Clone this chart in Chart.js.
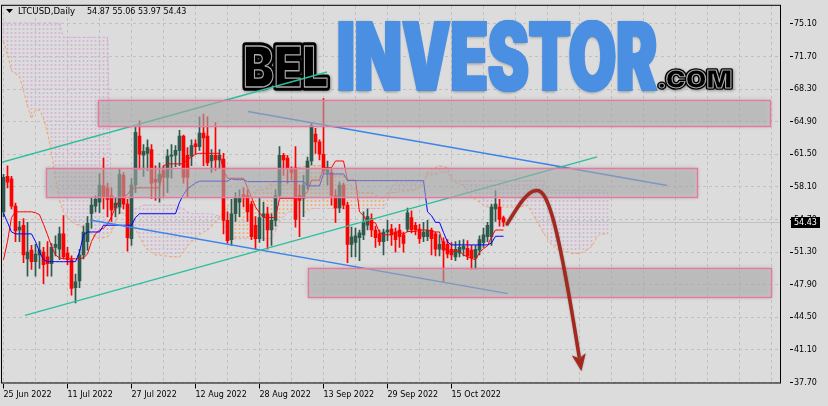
<!DOCTYPE html>
<html lang="en">
<head>
    <meta charset="UTF-8">
    <title>LTCUSD Daily</title>
    <style>
        body, html {
            margin: 0;
            padding: 0;
            background: #dcdcdc;
        }
        #wrap {
            width: 828px;
            height: 406px;
        }
    </style>
</head>
<body>
<div id="wrap"><canvas id="ltcChart" width="828" height="406"></canvas></div>
<script src="https://cdn.jsdelivr.net/npm/chart.js"></script>
<script>
// ---- data (bar index 0 = 25 Jun 2022) ----
const symbol = 'LTCUSD';

const opens = [55.5,59.2,58.95,56.1,53.6,54.1,50.6,51.5,50.3,51.0,
    51.3,50.8,50.1,51.8,51.6,53.2,51.2,50.5,47.6,48.3,
    51.0,52.4,55.3,56.1,56.5,58.2,58.0,57.2,55.9,56.0,
    59.3,56.3,52.7,58.3,63.4,61.4,61.6,62.0,58.9,58.6,
    59.8,59.1,61.3,61.4,61.9,63.4,61.4,61.3,62.6,62.3,
    63.7,63.4,60.8,61.4,60.9,61.0,54.6,52.6,55.3,56.5,
    57.3,57.2,56.3,54.1,52.7,55.0,55.3,53.6,54.6,57.2,
    61.4,61.1,59.9,60.1,57.2,56.9,58.3,60.8,63.6,62.8,
    61.5,59.6,59.6,57.2,55.9,58.3,56.2,52.1,52.3,52.8,
    53.1,54.1,54.8,53.6,53.2,52.4,53.4,53.7,53.4,53.6,
    53.1,53.7,54.9,54.1,53.7,52.9,52.9,53.6,53.2,51.6,
    52.4,52.1,51.6,50.8,51.2,51.6,51.7,51.5,50.7,51.5,
    52.3,52.9,52.9,55.8,56.0,54.87];
const highs = [59.4,60.3,59.2,56.4,54.5,54.8,54.4,52.0,52.1,52.4,
    51.8,52.4,52.2,53.0,53.9,55.1,51.8,50.9,49.0,51.6,
    54.0,55.0,57.0,57.2,59.5,61.1,58.5,58.0,57.0,60.0,
    59.6,56.8,59.0,64.3,65.0,62.5,63.0,62.5,60.3,60.6,
    60.3,62.0,62.5,62.4,64.0,63.5,62.2,63.0,63.0,65.4,
    65.7,65.4,62.0,64.8,62.0,61.6,55.5,56.8,57.5,57.8,
    58.0,57.8,56.6,55.0,57.0,56.5,56.0,55.3,57.8,62.3,
    61.6,61.4,60.2,62.3,58.3,59.3,61.2,64.8,64.2,63.0,
    67.3,60.8,60.0,57.8,58.6,58.5,56.5,53.9,53.8,53.6,
    55.5,55.8,55.3,54.0,53.6,53.7,54.6,54.2,53.8,54.2,
    53.4,55.9,55.6,54.4,54.2,54.4,54.6,53.8,53.4,53.1,
    52.8,52.6,52.3,52.4,52.5,52.6,52.5,52.0,52.0,53.0,
    53.8,54.4,56.3,57.7,56.8,55.06];
const lows = [55.0,58.0,55.8,52.4,52.4,50.2,48.8,49.5,48.8,49.6,
    48.0,48.8,48.8,50.9,50.5,50.6,50.0,46.8,46.0,47.6,
    50.6,51.5,53.8,55.5,55.4,55.8,55.0,54.5,55.0,55.3,
    55.8,51.4,52.0,57.5,59.9,59.2,59.8,56.9,56.7,56.5,
    57.0,57.5,59.0,60.2,60.3,58.5,57.0,60.3,61.5,61.9,
    60.3,60.3,59.6,59.8,60.0,53.2,52.2,52.0,54.5,55.0,
    56.0,54.5,52.6,51.6,52.3,52.5,51.6,52.0,54.0,57.0,
    59.3,58.5,58.8,53.9,52.9,55.0,57.9,60.4,61.6,60.9,
    59.5,58.3,56.2,54.4,55.4,55.8,50.2,50.8,50.8,50.4,
    52.6,53.6,52.9,51.8,52.0,51.0,52.5,52.0,51.3,51.8,
    51.3,53.4,53.3,53.1,52.2,52.4,52.5,51.0,50.9,50.9,
    48.2,50.7,50.5,50.4,50.8,50.9,50.5,49.5,49.5,51.0,
    51.8,52.4,52.0,54.5,54.0,53.97];
const closes = [59.1,58.6,56.1,53.5,53.9,51.0,51.3,50.3,51.1,51.5,
    50.0,50.1,51.8,52.1,53.2,50.8,50.5,47.5,48.2,51.0,
    53.4,54.3,56.2,56.8,58.3,57.0,56.8,55.7,56.4,59.4,
    56.3,52.8,58.3,63.8,61.5,61.8,62.2,58.5,58.6,59.4,
    59.1,61.3,61.4,61.9,63.4,59.1,59.1,62.4,62.3,63.7,
    63.2,60.6,61.4,60.9,61.4,54.6,52.5,55.3,57.0,57.0,
    57.0,55.5,52.9,52.7,54.9,55.3,53.6,54.6,57.2,61.4,
    60.9,60.1,59.6,54.7,56.7,58.3,60.8,64.5,62.8,61.5,
    59.8,59.9,57.2,55.9,58.3,56.2,52.1,52.9,53.0,53.3,
    54.4,55.0,53.6,52.8,52.4,53.4,53.6,53.1,52.6,52.9,
    52.2,55.4,53.6,53.6,52.7,53.4,53.6,52.7,51.6,52.1,
    51.5,51.1,51.0,51.6,51.8,51.9,50.9,50.7,51.6,52.6,
    53.1,54.1,56.0,56.3,54.7,54.43];

// Ichimoku lines as drawn (Tenkan red, Kijun blue)
const tenkan = [50.5,52.4,54.9,55.5,55.5,55.5,55.5,55.5,55.4,55.2,
    54.2,53.1,51.9,51.0,50.7,50.6,50.6,50.6,50.6,50.6,
    50.7,51.1,52.4,53.2,53.6,53.8,54.2,55.0,56.0,56.7,
    57.1,57.3,57.9,58.0,58.0,58.0,58.0,58.0,58.0,58.0,
    60.3,60.5,60.5,60.5,60.5,60.5,61.0,61.2,61.5,61.6,
    61.6,61.6,61.6,61.6,61.6,59.8,59.0,59.0,59.0,59.0,
    59.0,58.0,57.0,56.0,55.4,54.9,54.9,54.9,54.9,56.9,
    56.9,56.9,56.9,56.9,56.9,57.2,57.6,58.8,58.8,58.8,
    60.1,60.1,60.1,60.8,60.8,60.8,58.8,58.8,58.8,55.5,
    55.1,54.4,54.4,54.35,53.35,53.1,53.1,53.1,53.4,53.4,
    53.15,53.45,53.45,53.45,53.6,53.6,53.6,53.45,53.4,53.4,
    51.9,51.3,51.4,51.4,51.4,51.0,50.8,50.65,50.5,51.25,
    51.65,51.95,52.9,53.6,53.6,53.6];
const kijun = [55.35,54.4,53.4,53.2,53.2,53.2,53.2,53.2,52.4,51.3,
    50.5,50.3,50.3,50.3,50.3,50.3,50.3,50.3,50.3,51.3,
    53.1,53.4,53.4,53.4,53.4,54.1,54.1,54.1,54.1,54.1,
    54.1,54.1,54.1,54.9,55.3,55.3,55.3,55.3,55.3,55.3,
    55.3,55.3,55.3,55.3,56.5,57.3,57.9,58.2,58.5,58.7,
    58.7,58.7,58.7,58.7,58.7,58.7,58.7,58.95,58.85,58.85,
    58.85,58.65,58.65,58.65,58.65,58.65,58.65,58.65,58.65,58.65,
    58.65,58.65,58.65,58.65,58.65,58.65,58.2,58.2,58.2,58.2,
    59.45,59.45,59.45,59.45,59.45,59.45,58.75,58.75,58.75,58.75,
    58.75,58.75,58.75,58.75,58.75,58.75,58.75,58.75,58.75,58.75,
    58.75,58.75,58.75,58.75,58.75,58.75,55.5,55.1,54.4,54.4,
    53.35,52.35,52.05,52.05,52.05,52.05,52.05,52.05,52.05,52.05,
    52.05,52.05,52.25,52.95,52.95,52.95];
// cloud edges, already shifted 26 bars ahead
const spanA = [73.3,71.9,70.2,69.9,69.6,68.1,66.5,65.25,66.1,66.1,
    65.25,63.7,61.6,59.1,56.7,55.5,54.95,54.5,54.2,54.1,
    53.8,53.5,53.2,52.9,52.7,52.8,52.9,53.4,54.4,55.5,
    55.3,54.95,54.4,53.7,52.9,52.1,51.55,51.25,51.0,51.0,
    50.9,50.9,50.8,50.8,50.8,51.3,51.9,52.4,52.7,53.1,
    53.4,53.6,54.0,54.4,54.95,55.5,56.0,56.5,56.8,56.8,
    56.8,57.0,57.3,57.7,57.8,57.8,58.0,58.55,58.75,58.85,
    59.05,59.4,59.8,60.1,60.1,60.2,60.3,60.3,60.3,60.3,
    60.3,59.8,59.4,59.3,59.3,59.3,58.75,58.25,57.85,57.5,
    57.5,57.5,57.5,57.3,57.0,56.9,57.5,57.5,57.5,57.6,
    57.7,57.7,57.7,57.8,58.0,58.55,59.6,60.0,60.1,60.3,
    60.2,60.1,59.1,58.55,58.45,58.25,57.5,57.1,56.8,56.5,
    56.2,56.0,56.0,56.0,56.0,56.0,56.0,56.0,56.0,56.0,
    56.1,56.2,55.5,54.75,54.0,53.3,52.7,52.1,51.75,51.45,
    51.35,51.35,51.15,51.15,51.15,51.35,51.55,51.85,52.6,53.1,
    53.2,53.2];
const spanB = [75.2,75.2,75.2,75.2,75.2,75.2,75.2,75.2,75.2,75.2,
    75.2,75.2,75.2,75.2,75.2,73.7,73.7,73.7,73.7,73.7,
    73.7,73.7,73.7,73.7,73.7,73.7,73.7,55.8,55.8,55.9,
    56.0,56.0,55.9,55.8,56.0,56.2,56.2,56.2,56.2,56.2,
    56.2,56.2,56.2,56.2,56.0,55.8,55.5,55.3,55.3,55.3,
    55.3,55.3,55.3,55.15,55.05,54.8,52.7,52.7,52.7,52.7,
    52.7,52.7,52.7,52.7,52.7,52.7,52.7,52.7,53.5,54.5,
    55.0,55.5,55.5,55.5,55.5,55.5,55.5,55.85,55.85,55.85,
    55.85,55.85,55.85,55.85,55.85,55.85,55.85,55.85,55.85,55.85,
    55.85,55.85,55.85,55.85,55.85,55.85,56.65,58.15,58.55,58.55,
    58.55,58.55,58.55,58.55,58.55,58.55,59.35,59.35,59.35,59.65,
    59.65,59.65,58.75,58.75,58.75,58.75,58.75,58.75,58.75,58.75,
    58.75,58.75,58.75,58.75,58.75,58.75,58.75,58.75,58.75,58.75,
    58.75,58.75,58.75,58.75,58.75,58.75,57.75,57.75,57.75,57.75,
    57.75,57.75,57.75,57.75,57.75,57.75,57.75,57.75,57.75,57.75,
    57.75,57.75];

const dateLabels = ['25 Jun 2022', '11 Jul 2022', '27 Jul 2022', '12 Aug 2022',
    '28 Aug 2022', '13 Sep 2022', '29 Sep 2022', '15 Oct 2022'];
const gridDays = [0,8,16,24,32,40,48,56,64,72,80,88,96,104,112,120,128,136,144,152,160,168,176,184,192];
const priceTicks = [37.70,41.10,44.50,47.90,51.30,54.70,58.10,61.50,64.90,68.30,71.70,75.10];

// drawn objects in [bar, price]
const tealLines = [[[-0.875, 60.61], [80.875, 70.09]], [[5.375, 44.70], [148.4, 61.23]]];
const blueLines = [[[61.1, 65.97], [165.9, 58.24]], [[21.6, 54.64], [126.1, 46.97]]];
const zoneBars = [[23.6, 191.6], [10.6, 173.4], [76.1, 191.9]];
const zonePrices = [[67.20, 64.47], [60.02, 57.09], [49.62, 46.61]];
const arrowPath = [[125.9, 54.23], [128.6, 56.08], [131.1, 57.83], [133.4, 57.73],
    [136.1, 57.73], [138.6, 54.43], [143.9, 40.43]];

// ---- build ----
const canvas = document.getElementById('ltcChart');
const ctx = canvas.getContext('2d');

function hatch(color) {
    const tile = document.createElement('canvas');
    tile.width = 1;
    tile.height = 4;
    const t = tile.getContext('2d');
    t.fillStyle = color;
    t.fillRect(0, 0, 1, 2);
    return ctx.createPattern(tile, 'repeat');
}
const pinkHatch = hatch('#d6b2d3');
const orangeHatch = hatch('#f1ae78');

const bull = '#2d5a4c';
const bear = '#ff0000';
const wickData = [], bodyData = [], candleColors = [];
for (let i = 0; i < closes.length; i++) {
    wickData.push({x: i, y: [lows[i], highs[i]]});
    bodyData.push({x: i, y: [opens[i], closes[i]]});
    candleColors.push(closes[i] >= opens[i] ? bull : bear);
}
const cloudData = spanA.map((a, j) => ({x: j, y: [Math.min(a, spanB[j]), Math.max(a, spanB[j])]}));
const cloudColors = spanA.map((a, j) => a >= spanB[j] ? orangeHatch : pinkHatch);

function lineSet(values, color, order, dash) {
    return {
        type: 'line',
        data: values.map((v, i) => ({x: i, y: v})),
        borderColor: color,
        borderWidth: 1,
        borderDash: dash || [],
        pointRadius: 0,
        tension: 0,
        fill: false,
        order: order
    };
}
function segment(pts, color) {
    return {
        type: 'line',
        data: pts.map(p => ({x: p[0], y: p[1]})),
        borderColor: color,
        borderWidth: 1.5,
        pointRadius: 0,
        fill: false,
        order: 5
    };
}

function labelFor(v) {
    if (v % 16 === 0 && v / 16 < dateLabels.length) return dateLabels[v / 16];
    return '';
}

function fitText(c, text, box) {
    const m = c.measureText(text);
    const w = m.actualBoundingBoxLeft + m.actualBoundingBoxRight;
    const h = m.actualBoundingBoxAscent + m.actualBoundingBoxDescent;
    const sx = (box[2] - box[0]) / w;
    const sy = (box[3] - box[1]) / h;
    c.setTransform(sx, 0, 0, sy, box[0] + m.actualBoundingBoxLeft * sx, box[1] + m.actualBoundingBoxAscent * sy);
    return sx;
}

function outlinedWord(c, text, box, outer) {
    c.save();
    c.font = '900 100px Inter, Roboto, "Liberation Sans", sans-serif';
    c.textBaseline = 'alphabetic';
    const sx = fitText(c, text, box);
    c.lineJoin = 'round';
    c.shadowColor = 'rgba(0,0,0,0.35)';
    c.shadowBlur = 3;
    c.shadowOffsetX = 1;
    c.shadowOffsetY = 1;
    c.strokeStyle = '#000';
    c.lineWidth = outer / sx;
    c.strokeText(text, 0, 0);
    c.shadowColor = 'transparent';
    c.fillStyle = '#000';
    c.fillText(text, 0, 0);
    c.strokeStyle = '#a8a8a8';
    c.lineWidth = 1.1 / sx;
    c.strokeText(text, 0, 0);
    c.restore();
}

function drawLogo(c) {
    c.save();
    c.font = '900 100px Inter, Roboto, "Liberation Sans", sans-serif';
    c.textBaseline = 'alphabetic';
    const sx = fitText(c, 'INVESTOR', [338, 20, 655, 92]);
    c.fillStyle = '#4a8fe2';
    c.shadowColor = 'rgba(0,0,0,0.35)';
    c.shadowBlur = 3;
    c.shadowOffsetX = 1;
    c.shadowOffsetY = 1;
    c.fillText('INVESTOR', 0, 0);
    c.shadowColor = 'transparent';
    for (let d = 1; d <= 3; d++) c.fillText('INVESTOR', d / sx, 0);
    c.restore();
    outlinedWord(c, 'BEL', [245, 46, 327, 87], 6);
    outlinedWord(c, '.COM', [659, 70, 731, 88], 4);
}

const decor = {
    id: 'decor',
    beforeDatasetsDraw(chart) {
        const {ctx: c, chartArea: a, scales: {y}} = chart;
        c.save();
        c.beginPath();
        c.rect(a.left, a.top, a.right - a.left, a.bottom - a.top);
        c.clip();
        const py = Math.round(y.getPixelForValue(closes[closes.length - 1])) + 0.5;
        c.strokeStyle = '#c2c2c2';
        c.lineWidth = 1;
        c.beginPath();
        c.moveTo(a.left, py);
        c.lineTo(a.right, py);
        c.stroke();
        drawLogo(c);
        c.restore();
    },
    afterDatasetsDraw(chart) {
        const {ctx: c, chartArea: a, scales: {x, y}} = chart;
        c.save();
        c.beginPath();
        c.rect(a.left, a.top, a.right - a.left, a.bottom - a.top);
        c.clip();
        // zones
        zoneBars.forEach((zb, k) => {
            const x0 = Math.round(x.getPixelForValue(zb[0]));
            const x1 = Math.round(x.getPixelForValue(zb[1]));
            const y0 = Math.round(y.getPixelForValue(zonePrices[k][0]));
            const y1 = Math.round(y.getPixelForValue(zonePrices[k][1]));
            c.shadowColor = 'rgba(0,0,0,0.28)';
            c.shadowBlur = 5;
            c.fillStyle = 'rgba(186,186,186,0.55)';
            c.fillRect(x0, y0, x1 - x0, y1 - y0);
            c.shadowColor = 'transparent';
            c.strokeStyle = '#e57a9f';
            c.lineWidth = 1.5;
            c.strokeRect(x0 + 0.5, y0 + 0.5, x1 - x0, y1 - y0);
        });
        // forecast arrow
        const p = arrowPath.map(q => [x.getPixelForValue(q[0]), y.getPixelForValue(q[1])]);
        c.strokeStyle = '#a4281d';
        c.fillStyle = '#a4281d';
        c.lineWidth = 3.5;
        c.lineCap = 'round';
        c.shadowColor = 'rgba(0,0,0,0.3)';
        c.shadowBlur = 2;
        c.beginPath();
        c.moveTo(p[0][0], p[0][1]);
        c.bezierCurveTo(p[1][0], p[1][1], p[2][0], p[2][1], p[3][0], p[3][1]);
        c.bezierCurveTo(p[4][0], p[4][1], p[5][0], p[5][1], p[6][0], p[6][1]);
        c.stroke();
        const dx = p[6][0] - p[5][0], dy = p[6][1] - p[5][1];
        const len = Math.hypot(dx, dy);
        const ux = dx / len, uy = dy / len;
        c.beginPath();
        c.moveTo(p[6][0] + ux * 15, p[6][1] + uy * 15);
        c.lineTo(p[6][0] - uy * 7 - ux * 2, p[6][1] + ux * 7 - uy * 2);
        c.lineTo(p[6][0] + ux * 2, p[6][1] + uy * 2);
        c.lineTo(p[6][0] + uy * 7 - ux * 2, p[6][1] - ux * 7 - uy * 2);
        c.closePath();
        c.fill();
        c.restore();
    },
    afterDraw(chart) {
        const {ctx: c, chartArea: a, scales: {y}} = chart;
        c.save();
        // frame
        c.strokeStyle = '#000';
        c.lineWidth = 1;
        c.strokeRect(a.left + 0.5, a.top - 0.5, a.right - a.left - 1, a.bottom - a.top);
        // title: symbol, then O H L C of the last bar
        const n = closes.length - 1;
        c.fillStyle = '#000';
        c.beginPath();
        c.moveTo(6, 9);
        c.lineTo(13, 9);
        c.lineTo(9.5, 13);
        c.closePath();
        c.fill();
        c.textBaseline = 'alphabetic';
        c.font = '8.6px "DejaVu Sans"';
        c.fillText(symbol + ',Daily', 18, 14);
        c.font = '8px "DejaVu Sans"';
        const nums = [opens[n], highs[n], lows[n], closes[n]];
        const starts = [87, 112.5, 138, 163.5];
        nums.forEach((v, k) => c.fillText(v.toFixed(2), starts[k], 14));
        // last price box
        const py = Math.round(y.getPixelForValue(closes[n]));
        c.fillStyle = '#000';
        c.fillRect(a.right + 10, py - 5, 29, 11);
        c.fillStyle = '#fff';
        c.textBaseline = 'middle';
        c.fillText(closes[n].toFixed(2), a.right + 13, py + 0.5);
        c.restore();
    }
};

new Chart(ctx, {
    type: 'bar',
    data: {
        datasets: [
            {
                data: cloudData,
                backgroundColor: cloudColors,
                barThickness: 1,
                grouped: false,
                order: 10
            },
            lineSet(spanA, '#f4a460', 9, [3, 2]),
            lineSet(spanB, '#d6aed2', 9, [3, 2]),
            {
                data: wickData,
                backgroundColor: candleColors,
                barThickness: 1,
                grouped: false,
                order: 8
            },
            {
                data: bodyData,
                backgroundColor: candleColors,
                barThickness: 3,
                minBarLength: 1,
                grouped: false,
                order: 7
            },
            lineSet(kijun, '#0000ff', 6),
            lineSet(tenkan, '#ff0000', 6),
            segment(tealLines[0], '#2dbf9c'),
            segment(tealLines[1], '#2dbf9c'),
            segment(blueLines[0], '#3d84ea'),
            segment(blueLines[1], '#3d84ea')
        ]
    },
    options: {
        responsive: false,
        animation: false,
        layout: { padding: { left: 1, top: 1, right: 0, bottom: 0 } },
        plugins: {
            legend: { display: false },
            tooltip: { enabled: false },
            title: { display: false }
        },
        scales: {
            x: {
                type: 'linear',
                offset: false,
                min: -0.625,
                max: 194.375,
                afterBuildTicks: s => { s.ticks = gridDays.map(v => ({value: v})); },
                afterFit: s => { s.height = 22.5; },
                grid: {
                    offset: false,
                    color: '#c0c0c0',
                    tickLength: 5,
                    tickColor: c => labelFor(c.tick.value) ? '#000' : 'rgba(0,0,0,0)'
                },
                border: { display: false, dash: [3, 3] },
                ticks: {
                    autoSkip: false,
                    maxRotation: 0,
                    align: 'start',
                    padding: 2,
                    color: '#000',
                    font: { family: 'DejaVu Sans', size: 8 },
                    callback: v => labelFor(v)
                }
            },
            y: {
                type: 'linear',
                position: 'right',
                min: 37.597,
                max: 76.984,
                afterBuildTicks: s => { s.ticks = priceTicks.map(v => ({value: v})); },
                afterFit: s => { s.width = 47; },
                grid: {
                    color: '#c0c0c0',
                    tickLength: 12,
                    tickColor: '#000',
                    tickBorderDash: [0, 9, 3, 0]
                },
                border: { display: false, dash: [3, 3] },
                ticks: {
                    padding: 1,
                    color: '#000',
                    font: { family: 'DejaVu Sans', size: 8 },
                    callback: v => v.toFixed(2)
                }
            }
        }
    },
    plugins: [decor]
});
</script>
</body>
</html>
